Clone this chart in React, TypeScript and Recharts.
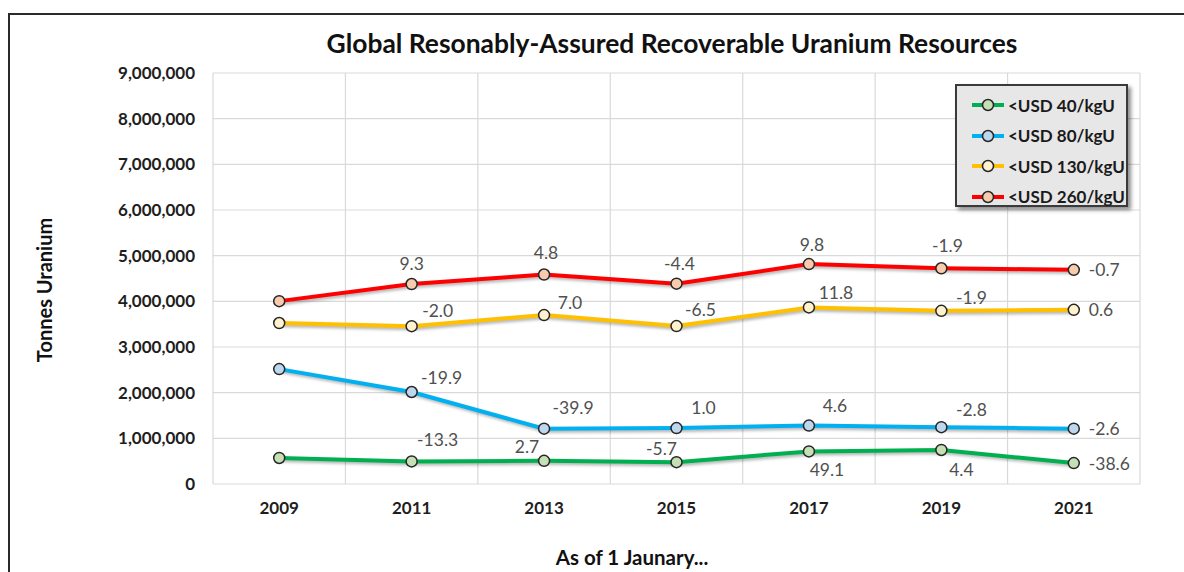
import React from "react";
import { CartesianGrid, LabelList, Legend, Line, LineChart, XAxis, YAxis } from "recharts";

const years = ["2009", "2011", "2013", "2015", "2017", "2019", "2021"];

// Reasonably assured resources (tonnes U) by cost category
const usd40 = [569900, 493900, 507400, 478700, 713900, 745300, 457600];
const usd80 = [2516000, 2014800, 1211600, 1223600, 1279900, 1243900, 1211600];
const usd130 = [3524900, 3455500, 3698900, 3458400, 3866000, 3791700, 3814000];
const usd260 = [4004500, 4378900, 4587200, 4386400, 4815400, 4723700, 4690000];

// % change against the previous edition
const chg40 = ["", "-13.3", "2.7", "-5.7", "49.1", "4.4", "-38.6"];
const chg80 = ["", "-19.9", "-39.9", "1.0", "4.6", "-2.8", "-2.6"];
const chg130 = ["", "-2.0", "7.0", "-6.5", "11.8", "-1.9", "0.6"];
const chg260 = ["", "9.3", "4.8", "-4.4", "9.8", "-1.9", "-0.7"];

const yTicks = [0, 1000000, 2000000, 3000000, 4000000, 5000000, 6000000, 7000000, 8000000, 9000000];

const FONT = "Lato, 'Open Sans', sans-serif";

type Place = { dx: number; dy: number; anchor?: "start" | "middle" };
const END: Place = { dx: 15, dy: 0, anchor: "start" };

// where each change label sits relative to its point
const place40: Place[] = [
  { dx: 0, dy: 0 }, { dx: 26, dy: -22 }, { dx: -17, dy: -14 }, { dx: -15, dy: -14 },
  { dx: 18, dy: 18 }, { dx: 20, dy: 20 }, END,
];
const place80: Place[] = [
  { dx: 0, dy: 0 }, { dx: 30, dy: -14 }, { dx: 29, dy: -21 }, { dx: 27, dy: -21 },
  { dx: 26, dy: -20 }, { dx: 30, dy: -18 }, END,
];
const place130: Place[] = [
  { dx: 0, dy: 0 }, { dx: 26, dy: -16 }, { dx: 26, dy: -13 }, { dx: 24, dy: -17 },
  { dx: 27, dy: -15 }, { dx: 30, dy: -13 }, END,
];
const place260: Place[] = [
  { dx: 0, dy: 0 }, { dx: 0, dy: -21 }, { dx: 2, dy: -22 }, { dx: 3, dy: -20 },
  { dx: 3, dy: -20 }, { dx: 6, dy: -23 }, END,
];

const series = [
  { key: "usd40", chg: "chg40", name: "<USD 40/kgU", stroke: "#00b050", fill: "#c5e0b4", place: place40 },
  { key: "usd80", chg: "chg80", name: "<USD 80/kgU", stroke: "#00b0f0", fill: "#bdd7ee", place: place80 },
  { key: "usd130", chg: "chg130", name: "<USD 130/kgU", stroke: "#ffc000", fill: "#fff2cc", place: place130 },
  { key: "usd260", chg: "chg260", name: "<USD 260/kgU", stroke: "#ff0000", fill: "#f8cbad", place: place260 },
];

const data = years.map((year, i) => ({
  year,
  usd40: usd40[i],
  usd80: usd80[i],
  usd130: usd130[i],
  usd260: usd260[i],
  chg40: chg40[i],
  chg80: chg80[i],
  chg130: chg130[i],
  chg260: chg260[i],
}));

const changeLabel = (place: Place[]) => (props: any) => {
  const { x, y, value, index } = props;
  if (!value) return null;
  const p = place[index];
  return (
    <text
      x={x + p.dx}
      y={y + p.dy}
      textAnchor={p.anchor ?? "middle"}
      dominantBaseline="central"
      fontSize={17.5}
      fontFamily={FONT}
      fill="#505050"
    >
      {value}
    </text>
  );
};

const LegendBox = () => (
  <div
    style={{
      width: 173,
      height: 123,
      boxSizing: "border-box",
      background: "#e7e7e7",
      border: "2px solid #3a3a3a",
      boxShadow: "3px 3px 4px rgba(0,0,0,0.45)",
      paddingTop: 4,
    }}
  >
    {series.map((s) => (
      <div key={s.key} style={{ display: "flex", alignItems: "center", height: 30.5 }}>
        <svg width={52} height={16} style={{ flex: "none" }}>
          <line x1={15} x2={47} y1={8} y2={8} stroke={s.stroke} strokeWidth={4} />
          <circle cx={31} cy={8} r={5.5} fill={s.fill} stroke="#262626" strokeWidth={1.5} />
        </svg>
        <span style={{ fontFamily: FONT, fontWeight: 700, fontSize: 17, color: "#1a1a1a", marginLeft: -1 }}>
          {s.name}
        </span>
      </div>
    ))}
  </div>
);

const tickStyle = { fontSize: 17, fontWeight: 700, fill: "#1e1e1e", fontFamily: FONT };

export default function App() {
  return (
    <div
      style={{
        position: "absolute",
        left: 0,
        top: 0,
        width: 1184,
        height: 572,
        overflow: "hidden",
        background: "#fff",
        fontFamily: FONT,
      }}
    >
      <style>{`.recharts-line-curve { filter: drop-shadow(2px 2px 1.5px rgba(0,0,0,0.3)); }`}</style>
      <div
        style={{
          position: "absolute",
          left: 8,
          top: 13,
          width: 1300,
          height: 700,
          border: "2px solid #2a2a2a",
        }}
      />
      <div
        style={{
          position: "absolute",
          left: 0,
          width: 1344,
          top: 27,
          textAlign: "center",
          fontSize: 26.4,
          fontWeight: 700,
          color: "#111",
        }}
      >
        Global Resonably-Assured Recoverable Uranium Resources
      </div>
      <div
        style={{
          position: "absolute",
          left: 44,
          top: 290,
          transform: "translate(-50%, -50%) rotate(-90deg)",
          whiteSpace: "nowrap",
          fontSize: 20,
          fontWeight: 700,
          color: "#111",
        }}
      >
        Tonnes Uranium
      </div>
      <div
        style={{
          position: "absolute",
          left: 632,
          top: 557,
          transform: "translate(-50%, -50%)",
          whiteSpace: "nowrap",
          fontSize: 20.5,
          fontWeight: 700,
          color: "#111",
        }}
      >
        As of 1 Jaunary...
      </div>
      <div style={{ position: "absolute", left: 0, top: 0 }}>
        <LineChart width={1184} height={572} data={data} margin={{ top: 73, right: 44, bottom: 48, left: 113 }}>
          <CartesianGrid
            stroke="#d9d9d9"
            strokeWidth={1.2}
            verticalCoordinatesGenerator={({ offset }: any) =>
              Array.from({ length: years.length + 1 }, (_, i) => offset.left + (i * offset.width) / years.length)
            }
          />
          <XAxis
            dataKey="year"
            scale="band"
            height={40}
            axisLine={false}
            tickLine={false}
            tickSize={6}
            tickMargin={12}
            tick={tickStyle}
          />
          <YAxis
            width={100}
            domain={[0, 9000000]}
            ticks={yTicks}
            axisLine={false}
            tickLine={false}
            tickSize={6}
            tickMargin={12}
            tickFormatter={(v: number) => v.toLocaleString("en-US")}
            tick={tickStyle}
          />
          <Legend
            layout="horizontal"
            verticalAlign="middle"
            align="center"
            wrapperStyle={{ left: 955, top: 84, width: 173, height: 123 }}
            content={() => <LegendBox />}
          />
          {series.map((s) => (
            <Line
              key={s.key}
              type="linear"
              dataKey={s.key}
              name={s.name}
              stroke={s.stroke}
              strokeWidth={4}
              dot={{ r: 5.5, fill: s.fill, stroke: "#262626", strokeWidth: 1.5 }}
              activeDot={false}
              isAnimationActive={false}
            >
              <LabelList dataKey={s.chg} content={changeLabel(s.place)} />
            </Line>
          ))}
        </LineChart>
      </div>
    </div>
  );
}
